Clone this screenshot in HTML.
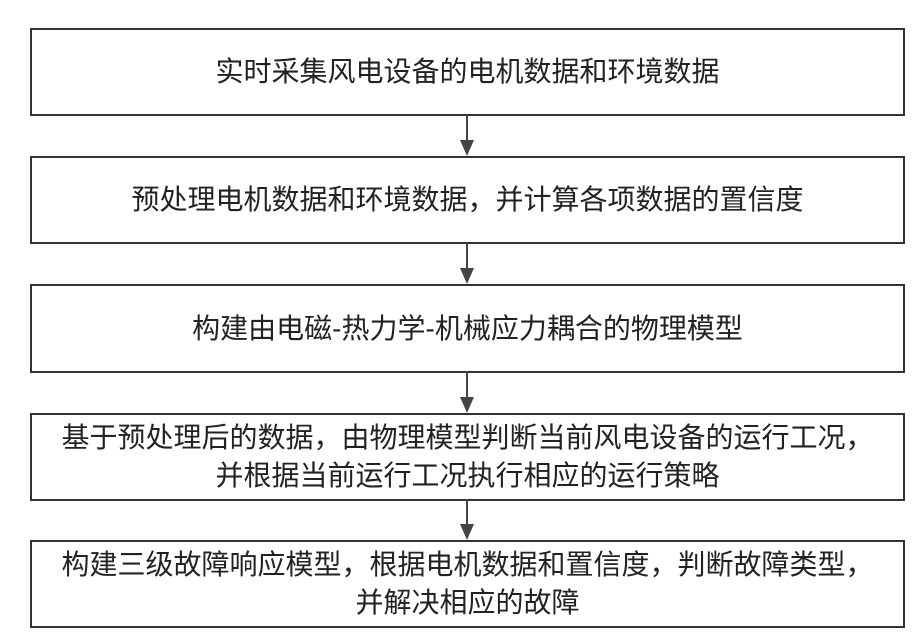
<!DOCTYPE html>
<html><head><meta charset="utf-8"><style>
body{margin:0;width:923px;height:643px;background:#fff;position:relative;overflow:hidden;font-family:"Liberation Sans","Noto Sans CJK SC",sans-serif;color:#222}
.b{position:absolute;left:30px;width:871px;border:2px solid #333;display:flex;align-items:center;justify-content:center;text-align:center;font-size:28px;line-height:38px;white-space:nowrap}
.a{position:absolute;left:466px;width:1.5px;background:#444}
.h{position:absolute;left:460px;width:0;height:0;border-left:7px solid transparent;border-right:7px solid transparent;border-top:16px solid #444}
</style></head><body>
<div class="b" style="top:28px;height:84px">实时采集风电设备的电机数据和环境数据</div>
<div class="b" style="top:156px;height:84px">预处理电机数据和环境数据，并计算各项数据的置信度</div>
<div class="b" style="top:284px;height:85px">构建由电磁-热力学-机械应力耦合的物理模型</div>
<div class="b" style="top:413px;height:84px">基于预处理后的数据，由物理模型判断当前风电设备的运行工况，<br>并根据当前运行工况执行相应的运行策略</div>
<div class="b" style="top:540px;height:84px">构建三级故障响应模型，根据电机数据和置信度，判断故障类型，<br>并解决相应的故障</div>
<div class="a" style="top:114px;height:26px"></div><div class="h" style="top:140px"></div>
<div class="a" style="top:242px;height:26px"></div><div class="h" style="top:268px"></div>
<div class="a" style="top:371px;height:26px"></div><div class="h" style="top:397px"></div>
<div class="a" style="top:499px;height:25px"></div><div class="h" style="top:524px"></div>
</body></html>
